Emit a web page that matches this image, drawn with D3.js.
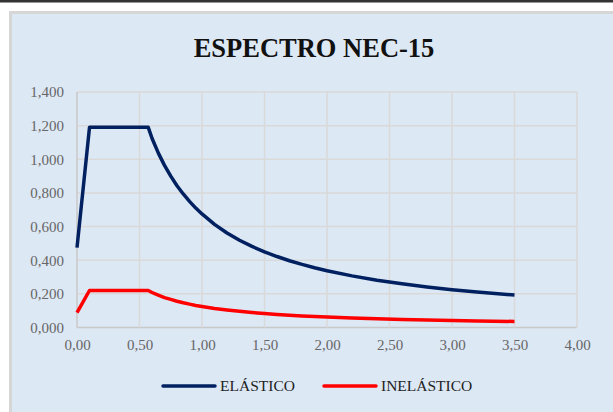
<!DOCTYPE html>
<html lang="es">
<head>
<meta charset="utf-8">
<title>Espectro NEC-15</title>
<script src="https://cdn.jsdelivr.net/npm/d3@7"></script>
<style>
  html, body { margin: 0; padding: 0; background: #fff; }
  svg { display: block; }
</style>
</head>
<body>
<div id="chart"></div>
<script>
// periodo T (s)
var periodos = [0, 0.10, 0.57, 0.60, 0.65, 0.70, 0.75, 0.80, 0.85, 0.90, 0.95, 1.00,
  1.10, 1.20, 1.30, 1.40, 1.50, 1.60, 1.70, 1.80, 1.90, 2.00, 2.20, 2.40, 2.60,
  2.80, 3.00, 3.20, 3.50];
// Sa elastico
var elastico = [0.475, 1.190, 1.190, 1.125, 1.038, 0.964, 0.900, 0.843, 0.794, 0.750,
  0.710, 0.675, 0.613, 0.562, 0.519, 0.482, 0.450, 0.422, 0.397, 0.375, 0.355, 0.337,
  0.307, 0.281, 0.260, 0.241, 0.225, 0.211, 0.193];
// Sa inelastico
var inelastico = [0.088, 0.220, 0.220, 0.208, 0.192, 0.178, 0.167, 0.156, 0.147, 0.139,
  0.131, 0.125, 0.113, 0.104, 0.096, 0.089, 0.083, 0.078, 0.073, 0.069, 0.066, 0.062,
  0.057, 0.052, 0.048, 0.045, 0.042, 0.039, 0.036];
var xTicks = [0, 0.5, 1, 1.5, 2, 2.5, 3, 3.5, 4];
var yTicks = [0, 0.2, 0.4, 0.6, 0.8, 1.0, 1.2, 1.4];
var series = [
  { nombre: "ELÁSTICO", valores: elastico, color: "#002060" },
  { nombre: "INELÁSTICO", valores: inelastico, color: "#ff0000" }
];

var W = 613, H = 412;
var serif = "'Liberation Serif', 'Times New Roman', serif";
var svg = d3.select("#chart").append("svg")
  .attr("width", W).attr("height", H);

// marco de la hoja
svg.append("rect").attr("x", 0).attr("y", 0).attr("width", W).attr("height", 2.5)
  .attr("fill", "#333");
svg.append("rect").attr("x", 9).attr("y", 11).attr("width", W).attr("height", H)
  .attr("fill", "#d6d6d6");
svg.append("rect").attr("x", 12).attr("y", 14).attr("width", W).attr("height", H)
  .attr("fill", "#dde8f5");

var x = d3.scaleLinear().domain([0, 4]).range([77, 577]);
var y = d3.scaleLinear().domain([0, 1.4]).range([327.5, 92]);
var fmtX = d3.format(".2f"), fmtY = d3.format(".3f");
var coma = function(s) { return s.replace(".", ","); };

// rejilla
svg.append("g").selectAll("line").data(yTicks).enter().append("line")
  .attr("x1", x(0)).attr("x2", x(4))
  .attr("y1", function(d) { return y(d); }).attr("y2", function(d) { return y(d); })
  .attr("stroke", function(d) { return d === 0 ? "#c8c8c8" : "#d9d9d9"; })
  .attr("stroke-width", 1.5);
svg.append("g").selectAll("line").data(xTicks).enter().append("line")
  .attr("y1", y(0)).attr("y2", y(1.4))
  .attr("x1", function(d) { return x(d); }).attr("x2", function(d) { return x(d); })
  .attr("stroke", function(d) { return d === 0 ? "#c8c8c8" : "#d9d9d9"; })
  .attr("stroke-width", 1.5);

// ejes
var xAxis = d3.axisBottom(x).tickValues(xTicks).tickSize(0).tickPadding(12)
  .tickFormat(function(d) { return coma(fmtX(d)); });
var yAxis = d3.axisLeft(y).tickValues(yTicks).tickSize(0).tickPadding(13)
  .tickFormat(function(d) { return coma(fmtY(d)); });

var gx = svg.append("g").attr("transform", "translate(0," + y(0) + ")").call(xAxis);
var gy = svg.append("g").attr("transform", "translate(" + x(0) + ",0)").call(yAxis);
[gx, gy].forEach(function(g) {
  g.select(".domain").remove();
  g.selectAll("text")
    .attr("font-family", serif)
    .attr("font-size", 15).attr("fill", "#666");
});

// curvas
var line = d3.line()
  .x(function(d, i) { return x(periodos[i]); })
  .y(function(d) { return y(d); });
svg.append("g").selectAll("path").data(series).enter().append("path")
  .attr("d", function(s) { return line(s.valores); })
  .attr("fill", "none")
  .attr("stroke", function(s) { return s.color; })
  .attr("stroke-width", 3.5)
  .attr("stroke-linejoin", "round");

// titulo
svg.append("text").attr("x", 314).attr("y", 57)
  .attr("text-anchor", "middle")
  .attr("font-family", serif)
  .attr("font-weight", "bold").attr("font-size", 26.5)
  .attr("fill", "#111")
  .text("ESPECTRO NEC-15");

// leyenda
var leg = svg.append("g").selectAll("g").data(series).enter().append("g")
  .attr("transform", function(s, i) { return "translate(" + [163, 324][i] + ",386)"; });
leg.append("line").attr("x1", 0).attr("x2", 52)
  .attr("stroke", function(s) { return s.color; })
  .attr("stroke-width", 3.5).attr("stroke-linecap", "round");
leg.append("text").attr("x", 57).attr("y", 5)
  .attr("font-family", serif)
  .attr("font-size", 15.5).attr("fill", "#222")
  .text(function(s) { return s.nombre; });
</script>
</body>
</html>
